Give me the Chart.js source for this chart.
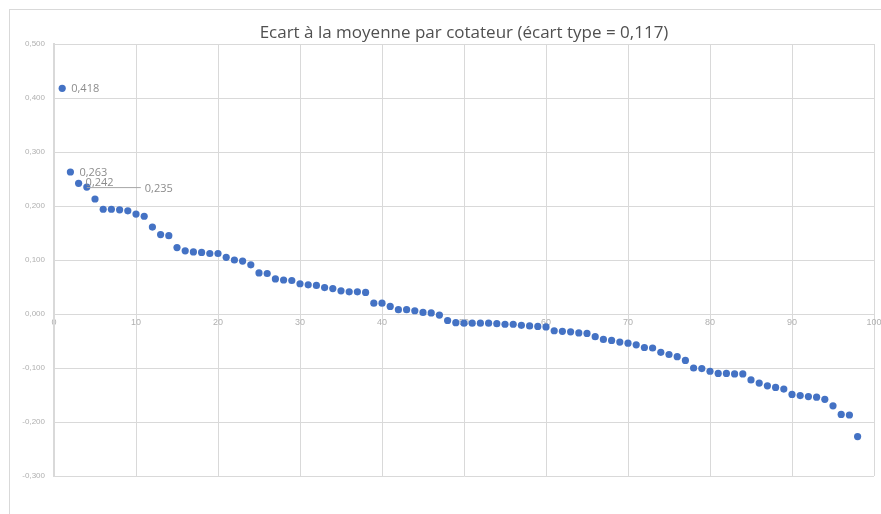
<!DOCTYPE html>
<html>
<head>
<meta charset="utf-8">
<script src="https://cdn.jsdelivr.net/npm/chart.js@4/dist/chart.umd.min.js"></script>
<style>
  html, body { margin: 0; padding: 0; background: #fff; }
  #wrap { position: relative; width: 881px; height: 514px; }
</style>
</head>
<body>
<div id="wrap"><canvas id="ecart" width="881" height="514"></canvas></div>
<script>
// rang du cotateur (1..98) et écart à la moyenne
var ecarts = [
  0.418, 0.263, 0.242, 0.235, 0.213, 0.194, 0.194, 0.193, 0.191, 0.185,
  0.181, 0.161, 0.147, 0.145, 0.123, 0.117, 0.115, 0.114, 0.112, 0.112,
  0.105, 0.100, 0.098, 0.091, 0.076, 0.075, 0.065, 0.063, 0.062, 0.056,
  0.054, 0.053, 0.049, 0.047, 0.043, 0.041, 0.041, 0.040, 0.020, 0.020,
  0.014, 0.008, 0.008, 0.006, 0.003, 0.002, -0.002, -0.012, -0.016, -0.017,
  -0.017, -0.017, -0.017, -0.018, -0.019, -0.019, -0.021, -0.022, -0.023, -0.024,
  -0.031, -0.032, -0.033, -0.035, -0.036, -0.042, -0.047, -0.049, -0.052, -0.054,
  -0.057, -0.062, -0.063, -0.071, -0.075, -0.079, -0.086, -0.100, -0.101, -0.106,
  -0.110, -0.110, -0.111, -0.111, -0.122, -0.128, -0.133, -0.136, -0.139, -0.149,
  -0.151, -0.153, -0.154, -0.158, -0.170, -0.186, -0.187, -0.227
];
var rangs = [];
for (var i = 0; i < ecarts.length; i++) { rangs.push(i + 1); }

// étiquettes affichées sur les 4 premiers points
var etiquettes = ['0,418', '0,263', '0,242', '0,235'];

var titre = 'Ecart à la moyenne par cotateur (écart type = 0,117)';

var points = [];
for (var i = 0; i < ecarts.length; i++) { points.push({ x: rangs[i], y: ecarts[i] }); }

function virgule(v) { return v.toFixed(3).replace('.', ','); }

/** cadre + titre + étiquettes */
var decor = {
  id: 'decor',
  beforeDraw: function (chart) {
    var ctx = chart.ctx;
    ctx.save();
    ctx.fillStyle = '#fff';
    ctx.fillRect(0, 0, chart.width, chart.height);
    ctx.strokeStyle = '#d9d9d9';
    ctx.lineWidth = 1;
    ctx.strokeRect(9.5, 9.5, chart.width, chart.height);
    ctx.restore();
  },
  afterDraw: function (chart) {
    var ctx = chart.ctx;
    var meta = chart.getDatasetMeta(0).data;
    ctx.save();
    ctx.fillStyle = '#505050';
    ctx.font = '17px "Open Sans", sans-serif';
    ctx.textAlign = 'center';
    ctx.textBaseline = 'middle';
    ctx.fillText(titre, 464, 33);

    ctx.font = '11px "Open Sans", sans-serif';
    ctx.fillStyle = '#8c8c8c';
    ctx.textAlign = 'left';
    for (var i = 0; i < etiquettes.length; i++) {
      var p = meta[i];
      if (i === 3) {
        // ligne de rappel vers l'étiquette décalée
        ctx.strokeStyle = '#a6a6a6';
        ctx.lineWidth = 1;
        ctx.beginPath();
        ctx.moveTo(p.x, p.y + 0.5);
        ctx.lineTo(p.x + 54, p.y + 0.5);
        ctx.stroke();
        ctx.fillText(etiquettes[i], p.x + 58, p.y + 2);
      } else if (i === 2) {
        ctx.fillText(etiquettes[i], p.x + 7, p.y);
      } else {
        ctx.fillText(etiquettes[i], p.x + 9, p.y + 1);
      }
    }
    ctx.restore();
  }
};

var ctx = document.getElementById('ecart').getContext('2d');
new Chart(ctx, {
  type: 'scatter',
  data: {
    datasets: [{
      data: points,
      backgroundColor: '#4472c4',
      borderColor: '#4472c4',
      borderWidth: 0,
      pointRadius: 3.6,
      pointHoverRadius: 3.6
    }]
  },
  options: {
    responsive: false,
    animation: false,
    devicePixelRatio: 1,
    layout: { padding: { left: 0, top: 44, right: 7, bottom: 38 } },
    plugins: { legend: { display: false }, tooltip: { enabled: false } },
    scales: {
      x: {
        type: 'linear',
        position: { y: 0 },
        min: 0, max: 100,
        ticks: { stepSize: 10, color: '#b0b0b0', font: { size: 9, family: 'Liberation Sans' }, padding: 3 },
        grid: { color: '#d9d9d9', lineWidth: 1, drawTicks: false },
        border: { color: '#d9d9d9', width: 1 },
        afterFit: function (scale) { scale.paddingRight = 0; scale.paddingLeft = 0; }
      },
      y: {
        min: -0.3, max: 0.5,
        ticks: {
          stepSize: 0.1, color: '#b0b0b0', padding: 9,
          font: { size: 8, family: 'Liberation Sans' },
          callback: function (v) { return virgule(v); }
        },
        grid: { color: '#d9d9d9', lineWidth: 1, drawTicks: false },
        border: { color: '#d9d9d9', width: 2 },
        afterFit: function (scale) { scale.width = 54; }
      }
    }
  },
  plugins: [decor]
});
</script>
</body>
</html>
